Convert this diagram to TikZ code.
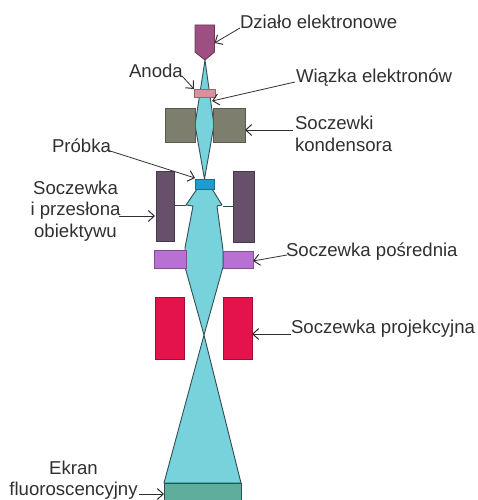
\documentclass[tikz,border=0pt]{standalone}
\usepackage{fontspec}
\setmainfont{Liberation Sans}
\usetikzlibrary{arrows.meta}
\definecolor{beamc}{HTML}{78D2DC}
\definecolor{edgec}{HTML}{2F4F55}
\definecolor{txtc}{HTML}{303030}
\tikzset{
  part/.style={draw=#1!70!black,line width=0.9pt,inner sep=0pt,outer sep=0pt},
  beam/.style={fill=beamc,draw=edgec,line width=0.9pt,line join=round},
  lbl/.style={inner sep=0pt,outer sep=0pt,text=txtc,font=\fontsize{18.6}{21.5}\selectfont},
  arr/.style={draw=txtc,line width=0.8pt,-{Straight Barb[length=6pt,width=11pt,line width=1pt]}},
  box/.style 2 args={part=#1,fill=#1,anchor=north west,minimum width=#2}
}
\definecolor{gunc}{HTML}{9C4F80}
\definecolor{anodec}{HTML}{D9909F}
\definecolor{condc}{HTML}{7E7E6E}
\definecolor{objc}{HTML}{66506A}
\definecolor{interc}{HTML}{B870D2}
\definecolor{projc}{HTML}{E5134C}
\definecolor{samplec}{HTML}{1E9CD2}
\definecolor{screenc}{HTML}{5FAE9C}
\begin{document}
\begin{tikzpicture}[x=1pt,y=-1pt]
\useasboundingbox (0,0) rectangle (477,500);
% beams
\path[beam] (205,60) -- (195,125) -- (204.5,179) -- (214,125) -- cycle;
\path[beam] (197,189) -- (212,189) -- (222,205) -- (217,206) -- (223,250) -- (223,267) -- (204,335) -- (185,267) -- (185,248) -- (193,206) -- (186,205) -- cycle;
\path[beam] (204,335) -- (241,483) -- (164,483) -- cycle;
% gun
\draw[part=gunc,fill=gunc] (195,25) -- (214.5,25) -- (214.5,52) -- (205,60) -- (195,52) -- cycle;
\coordinate (guntarget) at (214.5,43);
% parts
\node[box={anodec}{21pt},minimum height=8pt] (anode) at (194,89) {};
\node[box={condc}{30pt},minimum height=34pt] (condL) at (165,108) {};
\node[box={condc}{32pt},minimum height=34pt] (condR) at (213,108) {};
\node[box={objc}{18pt},minimum height=70pt] (objL) at (156,171) {};
\node[box={objc}{21pt},minimum height=71pt] (objR) at (233,171) {};
\node[box={samplec}{19pt},minimum height=10pt] (sample) at (195,179) {};
\node[box={interc}{32pt},minimum height=18pt] (interL) at (154,250) {};
\node[box={interc}{30pt},minimum height=17pt] (interR) at (223,251) {};
\node[box={projc}{29pt},minimum height=62pt] (projL) at (155,297) {};
\node[box={projc}{29pt},minimum height=62pt] (projR) at (223,297) {};
\fill[screenc] (164,483) rectangle (241,500);
\draw[edgec,line width=0.9pt] (164,500) -- (164,483) -- (241,483) -- (241,500);
\coordinate (screentarget) at (164,494);
% aperture bars
\coordinate (barL) at (186,205);
\coordinate (barR) at (223,206);
\draw[edgec,line width=0.8pt] (objL.east |- barL) -- (barL);
\draw[edgec,line width=0.8pt] (barR) -- (objR.west |- barR);
% labels
\node[lbl,anchor=base west] (tgun) at (240,29) {Działo elektronowe};
\node[lbl,anchor=base west] (tanode) at (129,78) {Anoda};
\node[lbl,anchor=base west] (tbeam) at (296,83) {Wiązka elektronów};
\node[lbl,anchor=north west,align=left] (tcond) at (295,116.5) {Soczewki\\kondensora};
\node[lbl,anchor=base west] (tsample) at (52,152) {Próbka};
\node[lbl,anchor=north,align=center] (tobj) at (75.5,181) {Soczewka\\i przesłona\\obiektywu};
\node[lbl,anchor=base west] (tinter) at (286,256) {Soczewka pośrednia};
\node[lbl,anchor=base west] (tproj) at (291,333) {Soczewka projekcyjna};
\node[lbl,anchor=north,align=center] (tscreen) at (73.5,461) {Ekran\\fluoroscencyjny};
% named connector ends
\coordinate (a1) at (240,28);
\coordinate (a2) at (182,76);
\coordinate (a2t) at (194,89);
\coordinate (a3) at (295,82);
\coordinate (a3t) at (212,101);
\coordinate (a4) at (293,130);
\coordinate (a5) at (107,150);
\coordinate (a5t) at (195,178);
\coordinate (a6) at (119,216);
\coordinate (a6t) at (155,216);
\coordinate (a7) at (287,255);
\coordinate (a7t) at (253,261);
\coordinate (a8) at (291,334);
\coordinate (a8t) at (252,334);
\coordinate (a9) at (139,494);
% connectors
\draw[arr] (a1) -- (guntarget);
\draw[arr] (a2) -- (a2t);
\draw[arr] (a3) -- (a3t);
\draw[arr] (a4) -- (condR.east |- a4);
\draw[arr] (a5) -- (a5t);
\draw[arr] (a6) -- (a6t);
\draw[arr] (a7) -- (a7t);
\draw[arr] (a8) -- (a8t);
\draw[arr] (a9) -- (screentarget);
\end{tikzpicture}
\end{document}
